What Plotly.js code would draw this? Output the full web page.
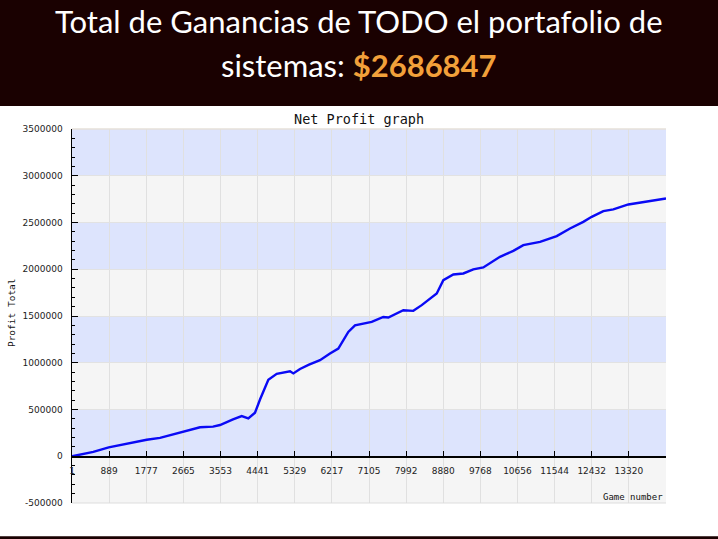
<!DOCTYPE html>
<html>
<head>
<meta charset="utf-8">
<script src="https://cdn.plot.ly/plotly-3.0.1.min.js"></script>
<style>
html,body{margin:0;padding:0;background:#ffffff;}
#chart{width:718px;height:539px;}
</style>
</head>
<body>
<div id="chart"></div>
<script>
// Game number (x) and cumulative net profit (y)
const games = [1, 192, 511, 879, 1309, 1788, 2106, 2663, 3063, 3374, 3541, 3852, 4060, 4218, 4378, 4498, 4697, 4898, 5216, 5295, 5455, 5670, 5933, 6172, 6371, 6610, 6770, 7170, 7447, 7567, 7926, 8165, 8366, 8725, 8883, 9122, 9361, 9600, 9839, 10238, 10557, 10796, 11196, 11595, 11913, 12231, 12432, 12710, 12949, 13308, 13748, 14209];
const profit = [0, 15000, 46000, 95000, 134000, 176000, 197000, 264000, 310000, 317000, 334000, 394000, 429000, 405000, 465000, 607000, 818000, 881000, 908000, 886000, 934000, 980000, 1027000, 1099000, 1152000, 1330000, 1400000, 1437000, 1490000, 1484000, 1562000, 1555000, 1616000, 1741000, 1883000, 1944000, 1955000, 1998000, 2019000, 2133000, 2197000, 2258000, 2293000, 2354000, 2436000, 2507000, 2561000, 2621000, 2640000, 2693000, 2721000, 2757000];
const xTicks = [1, 889, 1777, 2665, 3553, 4441, 5329, 6217, 7105, 7992, 8880, 9768, 10656, 11544, 12432, 13320];
const xTickLabels = ["1", "889", "1777", "2665", "3553", "4441", "5329", "6217", "7105", "7992", "8880", "9768", "10656", "11544", "12432", "13320"];
const yTicks = [-500000, 0, 500000, 1000000, 1500000, 2000000, 2500000, 3000000, 3500000];
const yTickLabels = ["-500000", "0", "500000", "1000000", "1500000", "2000000", "2500000", "3000000", "3500000"];
const headerLine1 = "Total de Ganancias de TODO el portafolio de";
const headerLine2 = "sistemas: ";
const totalText = "$2686847";

const yMin = -500000, yMax = 3500000, xMin = 1, xMax = 14209;

const shapes = [];
// header background
shapes.push({type:'rect', xref:'paper', yref:'paper', x0:-0.2, x1:1.2, y0:1.0615, y1:1.5, fillcolor:'#1a0101', line:{width:0}, layer:'below'});
// bottom dark rule
shapes.push({type:'rect', xref:'paper', yref:'paper', x0:-0.2, x1:1.2, y0:-0.089, y1:-0.2, fillcolor:'#1a0101', line:{width:0}, layer:'below'});
// alternating blue bands
for (let i = 0; i < yTicks.length - 1; i++) {
  if ((i % 2) === 1) {
    shapes.push({type:'rect', xref:'paper', yref:'y', x0:0, x1:1, y0:yTicks[i], y1:yTicks[i+1], fillcolor:'#dde4fd', line:{width:0}, layer:'below'});
  }
}
// top and bottom frame lines of plot area
shapes.push({type:'line', xref:'paper', yref:'paper', x0:0, x1:1, y0:1, y1:1, line:{color:'#e6e0d8', width:1.5}});
shapes.push({type:'line', xref:'paper', yref:'paper', x0:0, x1:1, y0:0, y1:0, line:{color:'#dddddd', width:1}});

const trace = {
  x: games, y: profit, type:'scatter', mode:'lines',
  line:{color:'#0a0af5', width:2.4}, hoverinfo:'skip', showlegend:false
};

const tickFont = {family:'DejaVu Sans, Verdana, sans-serif', size:9, color:'#222222'};
const mono = 'DejaVu Sans Mono, Liberation Mono, monospace';

const layout = {
  width:718, height:539,
  margin:{l:72, r:52, t:129, b:36, pad:0},
  paper_bgcolor:'#ffffff', plot_bgcolor:'#f5f5f5',
  showlegend:false,
  xaxis:{
    range:[xMin, xMax], tickmode:'array', tickvals:xTicks, ticktext:xTickLabels,
    anchor:'free', position:0.125, showline:true, linecolor:'#000000', linewidth:1.5,
    ticks:'inside', ticklen:5, tickcolor:'#000000', tickwidth:1,
    showgrid:true, gridcolor:'#e0e0e0', gridwidth:1, zeroline:false,
    tickfont:tickFont, ticklabelstandoff:5, fixedrange:true
  },
  yaxis:{
    range:[yMin, yMax], tickmode:'array', tickvals:yTicks, ticktext:yTickLabels,
    showline:true, linecolor:'#000000', linewidth:1.5,
    ticks:'inside', ticklen:6, tickcolor:'#000000', tickwidth:1,
    minor:{dtick:100000, ticks:'inside', ticklen:3, tickcolor:'#000000', showgrid:false},
    showgrid:true, gridcolor:'#e2e2e2', gridwidth:1, zeroline:false,
    tickfont:tickFont, ticklabelstandoff:6, fixedrange:true
  },
  shapes:shapes,
  annotations:[
    {xref:'paper', yref:'paper', x:0.483, y:1.289, xanchor:'center', yanchor:'middle', showarrow:false,
     text:headerLine1, font:{family:'Lato, Open Sans, sans-serif', size:31, color:'#ffffff'}},
    {xref:'paper', yref:'paper', x:0.483, y:1.171, xanchor:'center', yanchor:'middle', showarrow:false,
     text:headerLine2 + '<b><span style="color:#f2a03a">' + totalText + '</span></b>', font:{family:'Lato, Open Sans, sans-serif', size:31, color:'#ffffff'}},
    {xref:'paper', yref:'paper', x:0.483, y:1.0268, xanchor:'center', yanchor:'middle', showarrow:false,
     text:'Net Profit graph', font:{family:mono, size:13.5, color:'#111111'}},
    {xref:'paper', yref:'paper', x:-0.103, y:0.51, xanchor:'center', yanchor:'middle', showarrow:false, textangle:-90,
     text:'Profit Total', font:{family:mono, size:9.5, color:'#111111'}},
    {xref:'paper', yref:'paper', x:0.998, y:0.016, xanchor:'right', yanchor:'middle', showarrow:false,
     text:'Game number', font:{family:mono, size:9, color:'#111111'}}
  ]
};

Plotly.newPlot('chart', [trace], layout, {displayModeBar:false, staticPlot:true});
</script>
</body>
</html>
